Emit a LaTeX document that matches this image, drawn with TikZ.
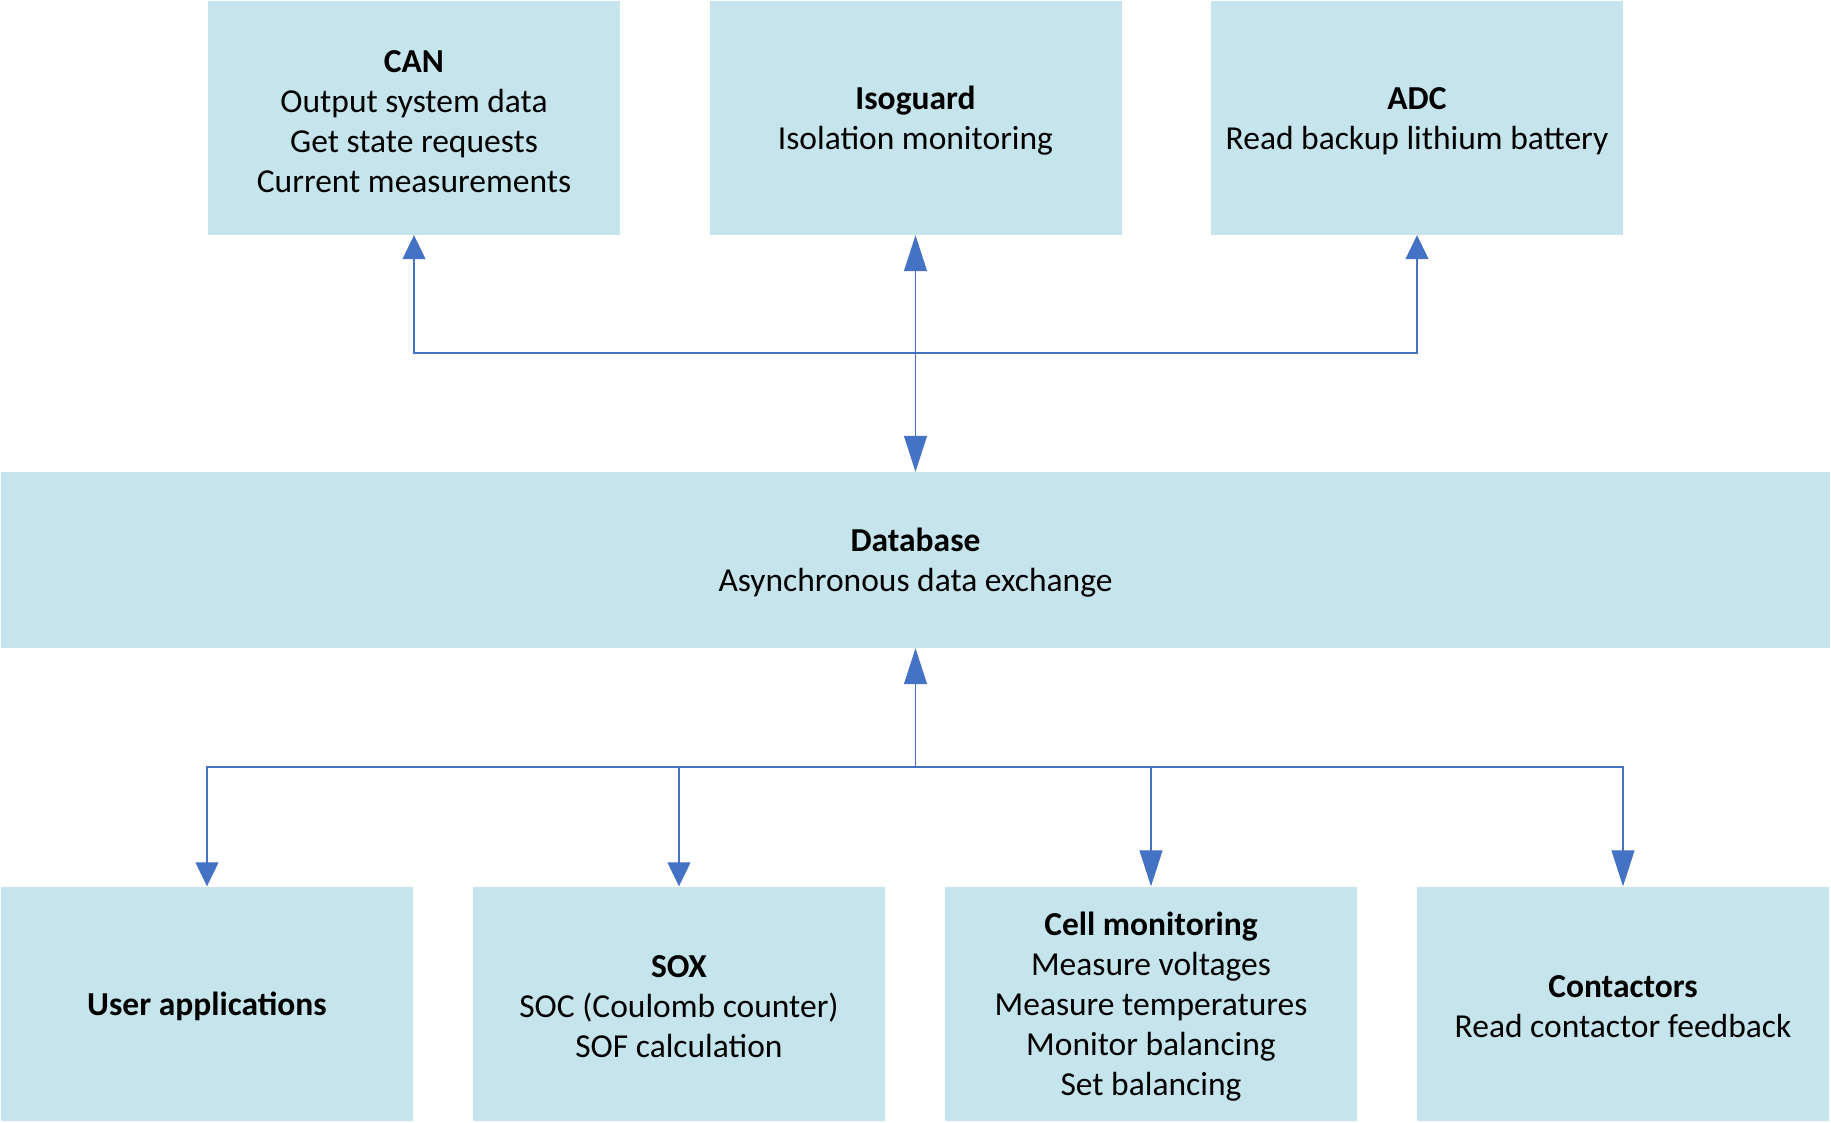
\documentclass[tikz,border=0pt]{standalone}
\usepackage{fontspec}
\setmainfont{Carlito}
\usetikzlibrary{arrows.meta,positioning}

\definecolor{boxfill}{HTML}{C6E4EC}
\definecolor{linkblue}{HTML}{4472C4}
\newcommand{\blockhead}[1]{\rule{0pt}{29pt}\textbf{#1}}

\tikzset{
  block/.style={fill=boxfill, minimum width=412pt, minimum height=234pt, inner sep=0pt, align=center, font=\fontsize{33.5}{40}\selectfont},
  link/.style={draw=linkblue, line width=1.2pt},
  smalltip/.tip={Triangle[width=23pt, length=24pt, color=linkblue]},
  bigtip/.tip={Triangle[width=23pt, length=36pt, color=linkblue]}
}

\begin{document}
\begin{tikzpicture}[x=1pt, y=-1pt]
\useasboundingbox (0,0) rectangle (1831,1122);
\node[block] (can) at (414,118) {\blockhead{CAN}\\Output system data\\Get state requests\\Current measurements};
\node[block] (iso) at (915.5,118) {\blockhead{Isoguard}\\Isolation monitoring};
\node[block] (adc) at (1417,118) {\blockhead{ADC}\\Read backup lithium battery};
\node[block, minimum width=1829pt, minimum height=176pt] (db) at (915.5,560) {\blockhead{Database}\\Asynchronous data exchange};
\node[block] (user) at (207,1003.5) {\blockhead{User applications}};
\node[block] (sox) at (679,1003.5) {\blockhead{SOX}\\SOC (Coulomb counter)\\SOF calculation};
\node[block] (cell) at (1151,1003.5) {\blockhead{Cell monitoring}\\Measure voltages\\Measure temperatures\\Monitor balancing\\Set balancing};
\node[block] (cont) at (1623,1003.5) {\blockhead{Contactors}\\Read contactor feedback};
\coordinate (tophub) at (915.5,353);
\coordinate (bothub) at (915.5,767);
\draw[link, bigtip-bigtip] (iso.south) -- (db.north);
\draw[link, -smalltip] (tophub) -| (can.south);
\draw[link, -smalltip] (tophub) -| (adc.south);
\draw[link, -bigtip] (bothub) -- (db.south);
\draw[link, -smalltip] (bothub) -| (user.north);
\draw[link, -smalltip] (bothub) -| (sox.north);
\draw[link, -bigtip] (bothub) -| (cell.north);
\draw[link, -bigtip] (bothub) -| (cont.north);
\end{tikzpicture}
\end{document}
